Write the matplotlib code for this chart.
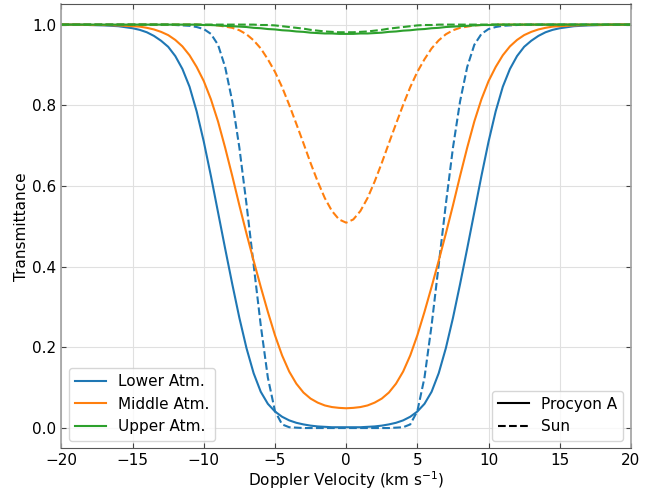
#!/usr/bin/env python
import numpy as np
import matplotlib
matplotlib.use("Agg")
import matplotlib.pyplot as plt
from matplotlib.lines import Line2D

plt.rcParams['font.size'] = 11

# Doppler velocity grid (km/s)
velocity = [-20, -19, -18, -17, -16, -15, -14.5, -14, -13.5, -13, -12.5, -12,
            -11.5, -11, -10.5, -10, -9.5, -9, -8.5, -8, -7.5, -7, -6.5, -6,
            -5.5, -5, -4.5, -4, -3.5, -3, -2.5, -2, -1.5, -1, -0.5, 0,
            0.5, 1, 1.5, 2, 2.5, 3, 3.5, 4, 4.5, 5, 5.5, 6, 6.5, 7, 7.5, 8,
            8.5, 9, 9.5, 10, 10.5, 11, 11.5, 12, 12.5, 13, 13.5, 14, 14.5,
            15, 16, 17, 18, 19, 20]

# Procyon A
lower_procyon = [1.000, 1.000, 0.999, 0.998, 0.996, 0.991, 0.987, 0.981, 0.972,
                 0.960, 0.945, 0.922, 0.890, 0.846, 0.785, 0.710, 0.625, 0.535,
                 0.445, 0.357, 0.273, 0.198, 0.136, 0.090, 0.060, 0.041, 0.028,
                 0.019, 0.013, 0.009, 0.006, 0.004, 0.003, 0.002, 0.002, 0.002,
                 0.002, 0.002, 0.003, 0.004, 0.006, 0.009, 0.013, 0.019, 0.028,
                 0.041, 0.060, 0.090, 0.136, 0.198, 0.273, 0.357, 0.445, 0.535,
                 0.625, 0.710, 0.785, 0.846, 0.890, 0.922, 0.945, 0.960, 0.972,
                 0.981, 0.987, 0.991, 0.996, 0.998, 0.999, 1.000, 1.000]
middle_procyon = [1.000, 1.000, 0.999, 0.999, 0.998, 0.996, 0.995, 0.992, 0.988,
                  0.982, 0.974, 0.962, 0.946, 0.924, 0.895, 0.860, 0.815, 0.760,
                  0.695, 0.625, 0.552, 0.482, 0.415, 0.350, 0.288, 0.230, 0.180,
                  0.140, 0.110, 0.088, 0.073, 0.063, 0.056, 0.052, 0.050, 0.049,
                  0.050, 0.052, 0.056, 0.063, 0.073, 0.088, 0.110, 0.140, 0.180,
                  0.230, 0.288, 0.350, 0.415, 0.482, 0.552, 0.625, 0.695, 0.760,
                  0.815, 0.860, 0.895, 0.924, 0.946, 0.962, 0.974, 0.982, 0.988,
                  0.992, 0.995, 0.996, 0.998, 0.999, 0.999, 1.000, 1.000]
upper_procyon = [1.000, 1.000, 1.000, 1.000, 1.000, 1.000, 1.000, 1.000, 1.000,
                 1.000, 1.000, 1.000, 1.000, 1.000, 1.000, 0.999, 0.999, 0.998,
                 0.997, 0.996, 0.995, 0.994, 0.992, 0.991, 0.989, 0.988, 0.986,
                 0.985, 0.983, 0.982, 0.980, 0.979, 0.978, 0.978, 0.977, 0.977,
                 0.977, 0.978, 0.978, 0.979, 0.980, 0.982, 0.983, 0.985, 0.986,
                 0.988, 0.989, 0.991, 0.992, 0.994, 0.995, 0.996, 0.997, 0.998,
                 0.999, 0.999, 1.000, 1.000, 1.000, 1.000, 1.000, 1.000, 1.000,
                 1.000, 1.000, 1.000, 1.000, 1.000, 1.000, 1.000, 1.000]

# Sun
lower_sun = [1.000, 1.000, 1.000, 1.000, 1.000, 1.000, 1.000, 1.000, 1.000,
             1.000, 1.000, 0.999, 0.998, 0.997, 0.994, 0.989, 0.977, 0.950,
             0.895, 0.810, 0.695, 0.555, 0.405, 0.255, 0.125, 0.042, 0.009,
             0.002, 0.001, 0.000, 0.000, 0.000, 0.000, 0.000, 0.000, 0.000,
             0.000, 0.000, 0.000, 0.000, 0.000, 0.000, 0.001, 0.002, 0.009,
             0.042, 0.125, 0.255, 0.405, 0.555, 0.695, 0.810, 0.895, 0.950,
             0.977, 0.989, 0.994, 0.997, 0.998, 0.999, 1.000, 1.000, 1.000,
             1.000, 1.000, 1.000, 1.000, 1.000, 1.000, 1.000, 1.000]
middle_sun = [1.000, 1.000, 1.000, 1.000, 1.000, 1.000, 1.000, 1.000, 1.000,
              1.000, 1.000, 1.000, 1.000, 1.000, 1.000, 0.999, 0.999, 0.998,
              0.995, 0.992, 0.986, 0.976, 0.961, 0.941, 0.914, 0.883, 0.845,
              0.801, 0.754, 0.706, 0.657, 0.611, 0.570, 0.538, 0.517, 0.509,
              0.517, 0.538, 0.570, 0.611, 0.657, 0.706, 0.754, 0.801, 0.845,
              0.883, 0.914, 0.941, 0.961, 0.976, 0.986, 0.992, 0.995, 0.998,
              0.999, 0.999, 1.000, 1.000, 1.000, 1.000, 1.000, 1.000, 1.000,
              1.000, 1.000, 1.000, 1.000, 1.000, 1.000, 1.000, 1.000]
upper_sun = [1.000, 1.000, 1.000, 1.000, 1.000, 1.000, 1.000, 1.000, 1.000,
             1.000, 1.000, 1.000, 1.000, 1.000, 1.000, 1.000, 1.000, 1.000,
             1.000, 1.000, 1.000, 1.000, 1.000, 0.999, 0.999, 0.998, 0.996,
             0.994, 0.992, 0.990, 0.987, 0.985, 0.983, 0.982, 0.981, 0.981,
             0.981, 0.982, 0.983, 0.985, 0.987, 0.990, 0.992, 0.994, 0.996,
             0.998, 0.999, 0.999, 1.000, 1.000, 1.000, 1.000, 1.000, 1.000,
             1.000, 1.000, 1.000, 1.000, 1.000, 1.000, 1.000, 1.000, 1.000,
             1.000, 1.000, 1.000, 1.000, 1.000, 1.000, 1.000, 1.000]

layers = ['Lower Atm.', 'Middle Atm.', 'Upper Atm.']
colors = ['C0', 'C1', 'C2']
procyon = [lower_procyon, middle_procyon, upper_procyon]
sun = [lower_sun, middle_sun, upper_sun]

fig = plt.figure(figsize=(6.6, 4.92), dpi=100)
ax = fig.add_axes([0.093, 0.089, 0.863, 0.902])

handles = []
for name, c, yp, ys in zip(layers, colors, procyon, sun):
    h, = ax.plot(velocity, yp, color=c, lw=1.5, label=name)
    ax.plot(velocity, ys, color=c, lw=1.5, ls='--')
    handles.append(h)

ax.set_xlim(-20, 20)
ax.set_ylim(-0.05, 1.05)
ax.set_xticks(np.arange(-20, 21, 5))
ax.set_yticks(np.arange(0, 1.01, 0.2))
ax.grid(color='#e0e0e0', lw=0.8)
ax.set_axisbelow(True)
ax.tick_params(direction='in', top=True, right=True, color='#444444')
for side in ['top', 'bottom']:
    ax.spines[side].set_color('#555555')
for side in ['left', 'right']:
    ax.spines[side].set_color('#a0a0a0')
    ax.spines[side].set_linewidth(1.2)

ax.set_xlabel('Doppler Velocity (km s$^{-1}$)', labelpad=1)
ax.set_ylabel('Transmittance', labelpad=2)

leg1 = ax.legend(handles=handles, loc='lower left')
ax.add_artist(leg1)
star_handles = [Line2D([], [], color='k', lw=1.5, ls='-'),
                Line2D([], [], color='k', lw=1.5, ls='--')]
ax.legend(star_handles, ['Procyon A', 'Sun'], loc='lower right')

fig.savefig('out.png', dpi=100)
